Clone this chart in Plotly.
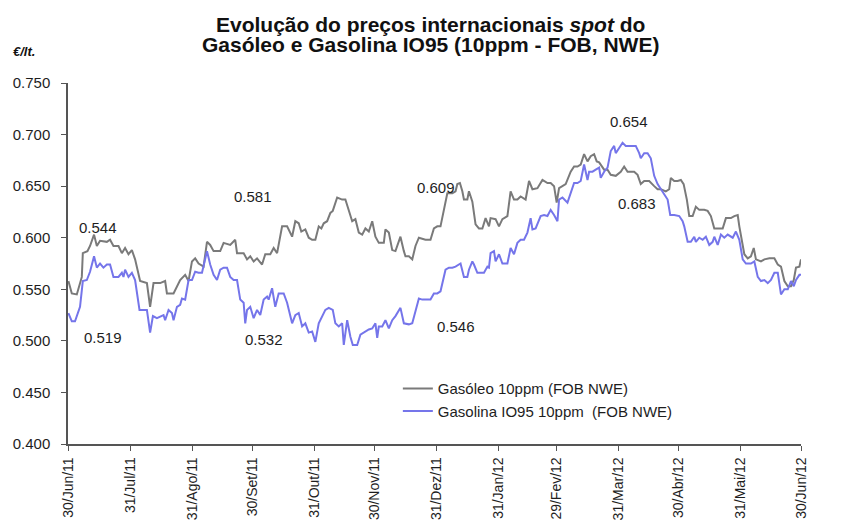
import plotly.graph_objects as go

# x = days since 30/Jun/11
gasoleo_days = [0.2, 1.9, 4.4, 6.9, 7.4, 9.7, 11.0, 13.0, 14.4, 16.0, 19.4, 21.0, 22.7, 25.2, 26.9, 28.5, 30.2, 31.9, 33.5, 36.0,
                39.4, 41.0, 42.7, 46.0, 48.5, 49.4, 52.7, 54.4, 56.0, 58.5, 60.2, 61.9, 63.5, 65.2, 67.7, 69.4, 71.0, 72.7, 76.0, 77.7,
                81.0, 83.5, 84.4, 87.7, 89.4, 91.0, 92.7, 94.4, 96.9, 98.5, 101.0, 102.7, 104.4, 106.9, 109.4, 111.9, 113.5, 115.2,
                116.5, 118.5, 120.2, 121.9, 123.5, 125.2, 126.5, 127.7, 129.4, 131.0, 132.2, 134.4, 136.9, 138.5, 140.2, 141.9, 143.5,
                145.2, 146.9, 148.5, 150.2, 151.9, 153.5, 155.2, 157.7, 158.5, 160.2, 161.9, 163.5, 166.0, 167.7, 168.5, 170.2, 171.9,
                173.5, 175.2, 178.5, 181.0, 182.7, 184.4, 186.0, 187.7, 189.4, 191.9, 193.5, 194.4, 195.7, 196.9, 197.7, 199.4, 200.2,
                201.9, 203.5, 205.2, 206.9, 208.5, 210.2, 211.0, 213.5, 215.2, 216.9, 219.4, 221.0, 222.7, 224.4, 226.0, 228.5, 230.2,
                231.9, 234.4, 236.9, 239.4, 241.0, 242.7, 244.0, 245.2, 246.9, 248.5, 251.0, 252.7, 254.4, 256.0, 257.7, 259.4, 261.0,
                262.7, 264.0, 265.2, 267.7, 269.4, 271.0, 273.5, 276.0, 277.7, 279.4, 282.7, 284.4, 286.0, 287.7, 290.2, 292.7, 294.4,
                296.0, 298.5, 300.2, 301.0, 302.7, 304.4, 306.0, 307.4, 309.0, 310.2, 311.9, 313.5, 315.2, 317.7, 319.4, 321.0, 322.7,
                324.4, 326.9, 328.5, 331.0, 332.7, 334.4, 335.2, 336.9, 337.7, 339.4, 341.0, 342.4, 343.5, 346.0, 347.7, 350.2, 352.7,
                354.4, 356.0, 357.7, 359.4, 361.0, 362.4, 363.5, 365.2, 366.0]
gasoleo_vals = [0.558, 0.546, 0.545, 0.562, 0.585, 0.587, 0.592, 0.603, 0.592, 0.597, 0.596, 0.598, 0.592, 0.592, 0.585, 0.590, 0.584, 0.588, 0.579, 0.558,
                0.556, 0.533, 0.556, 0.556, 0.558, 0.546, 0.546, 0.553, 0.559, 0.564, 0.558, 0.577, 0.580, 0.575, 0.572, 0.596, 0.593, 0.587, 0.587, 0.595,
                0.593, 0.598, 0.585, 0.585, 0.579, 0.582, 0.577, 0.580, 0.574, 0.584, 0.584, 0.590, 0.585, 0.611, 0.611, 0.601, 0.616, 0.614,
                0.606, 0.608, 0.600, 0.598, 0.598, 0.611, 0.609, 0.614, 0.616, 0.624, 0.626, 0.639, 0.637, 0.637, 0.626, 0.616, 0.618,
                0.605, 0.603, 0.609, 0.606, 0.616, 0.601, 0.595, 0.595, 0.608, 0.605, 0.588, 0.587, 0.601, 0.587, 0.582, 0.582, 0.579,
                0.592, 0.600, 0.598, 0.598, 0.609, 0.611, 0.611, 0.627, 0.643, 0.643, 0.645, 0.652, 0.653, 0.645, 0.637, 0.637, 0.645,
                0.635, 0.613, 0.609, 0.609, 0.619, 0.611, 0.619, 0.618, 0.611, 0.618, 0.621, 0.645, 0.637, 0.637, 0.640, 0.637, 0.655,
                0.647, 0.648, 0.656, 0.653, 0.653, 0.650, 0.634, 0.648, 0.650, 0.652, 0.664, 0.669, 0.669, 0.671, 0.681, 0.674, 0.679,
                0.681, 0.674, 0.673, 0.666, 0.666, 0.661, 0.660, 0.664, 0.669, 0.664, 0.664, 0.661, 0.652, 0.655, 0.655, 0.650, 0.647,
                0.647, 0.645, 0.647, 0.658, 0.655, 0.655, 0.656, 0.652, 0.637, 0.621, 0.621, 0.630, 0.627, 0.627, 0.626, 0.621, 0.609,
                0.609, 0.609, 0.619, 0.619, 0.621, 0.622, 0.611, 0.595, 0.584, 0.580, 0.582, 0.590, 0.579, 0.577, 0.579, 0.580, 0.580,
                0.574, 0.572, 0.558, 0.553, 0.553, 0.559, 0.571, 0.572, 0.579]

gasolina_days = [0.2, 1.9, 3.5, 6.0, 7.4, 9.4, 11.0, 13.0, 14.4, 16.0, 17.7, 19.4, 21.0, 22.7, 25.2, 26.9, 27.7, 28.5, 30.2, 31.9,
                 33.5, 35.7, 39.4, 41.0, 42.4, 44.4, 47.7, 48.5, 50.2, 51.9, 52.7, 54.4, 56.0, 56.9, 58.5, 60.2, 61.9, 63.5, 65.2, 66.9,
                 69.4, 71.0, 72.7, 74.4, 76.0, 77.7, 79.4, 81.0, 82.7, 84.4, 86.0, 87.7, 88.5, 89.4, 91.0, 92.7, 94.4, 96.0, 97.7, 99.4,
                 100.2, 101.9, 103.5, 105.2, 107.7, 109.4, 111.9, 113.5, 115.2,
                 116.9, 118.5, 120.2, 121.9, 123.5, 125.2, 126.9, 128.5, 130.2, 132.2, 133.5, 135.2, 136.9, 137.7, 139.4, 141.0, 142.2,
                 144.4, 146.0, 147.7, 150.2, 151.9, 153.5, 154.4, 155.2, 156.9, 158.5, 160.2, 161.9, 163.5, 166.0, 167.7, 170.2, 171.9,
                 173.5, 175.2, 176.9, 179.4,
                 181.0, 182.7, 184.4, 186.0, 188.5, 190.2, 191.9, 193.5, 196.0, 197.7, 199.4, 200.2, 201.9, 202.7, 204.4, 207.7, 208.5,
                 209.4, 210.2, 211.0, 212.7, 213.5, 215.2, 216.9, 219.4, 221.0, 222.7, 224.4, 226.0, 227.7, 229.4, 231.0, 231.9, 233.5,
                 236.0, 237.7, 239.4, 241.0, 242.7, 244.4, 245.2, 246.9, 249.4, 251.0, 252.7, 254.4, 256.0, 257.7, 259.4, 260.2, 261.9,
                 263.5, 265.2, 266.0, 267.7, 269.4,
                 271.0, 272.7, 273.5, 275.2, 276.9, 278.5, 283.5, 285.2, 286.0, 287.7, 289.4, 291.0, 291.9, 292.7, 294.4, 296.0, 297.7,
                 299.4, 300.7, 302.7, 305.2, 306.9, 307.7, 309.4, 311.0, 312.7, 313.5, 315.2, 316.9, 318.5, 320.2, 321.9, 322.7, 324.4,
                 326.0, 327.7, 329.4, 331.9, 333.5, 335.2, 336.9, 338.5, 341.0, 342.7, 344.4, 346.0, 347.7, 349.4, 351.0, 352.7, 354.4,
                 356.0, 357.7, 359.4, 361.0, 362.4, 363.5, 364.4, 365.2, 366.0]
gasolina_vals = [0.527, 0.519, 0.519, 0.533, 0.558, 0.559, 0.567, 0.582, 0.571, 0.575, 0.571, 0.574, 0.574, 0.562, 0.562, 0.566, 0.562, 0.569, 0.562, 0.566,
                 0.559, 0.530, 0.530, 0.508, 0.524, 0.522, 0.525, 0.520, 0.530, 0.527, 0.520, 0.533, 0.535, 0.541, 0.540, 0.559, 0.559, 0.567, 0.566, 0.566,
                 0.587, 0.574, 0.564, 0.559, 0.569, 0.571, 0.571, 0.562, 0.559, 0.559, 0.540, 0.537, 0.517, 0.530, 0.533, 0.522, 0.530, 0.525, 0.540, 0.543,
                 0.540, 0.551, 0.533, 0.546, 0.546, 0.537, 0.517, 0.525, 0.527,
                 0.514, 0.517, 0.508, 0.509, 0.499, 0.517, 0.524, 0.530, 0.532, 0.530, 0.517, 0.514, 0.517, 0.496, 0.520, 0.504, 0.496,
                 0.496, 0.506, 0.508, 0.511, 0.512, 0.517, 0.503, 0.514, 0.514, 0.520, 0.512, 0.520, 0.524, 0.532, 0.517, 0.516, 0.517,
                 0.529, 0.541, 0.540, 0.540,
                 0.540, 0.546, 0.546, 0.548, 0.569, 0.571, 0.571, 0.572, 0.575, 0.562, 0.562, 0.569, 0.577, 0.574, 0.566, 0.566, 0.569,
                 0.572, 0.571, 0.585, 0.587, 0.577, 0.584, 0.575, 0.575, 0.590, 0.584, 0.595, 0.598, 0.598, 0.605, 0.619, 0.608, 0.609,
                 0.621, 0.622, 0.621, 0.627, 0.622, 0.616, 0.637, 0.639, 0.634, 0.643, 0.653, 0.653, 0.655, 0.671, 0.656, 0.664, 0.664,
                 0.666, 0.668, 0.658, 0.664, 0.668,
                 0.684, 0.689, 0.682, 0.687, 0.692, 0.689, 0.689, 0.682, 0.677, 0.682, 0.682, 0.677, 0.668, 0.660, 0.652, 0.647, 0.643,
                 0.637, 0.622, 0.622, 0.621, 0.616, 0.611, 0.596, 0.596, 0.601, 0.596, 0.600, 0.598, 0.601, 0.593, 0.596, 0.601, 0.593,
                 0.603, 0.600, 0.603, 0.600, 0.606, 0.598, 0.579, 0.575, 0.575, 0.577, 0.562, 0.558, 0.559, 0.556, 0.559, 0.566, 0.566,
                 0.545, 0.550, 0.550, 0.558, 0.553, 0.559, 0.562, 0.564, 0.564]

tick_days = [0, 31, 62, 92, 123, 153, 184, 215, 244, 275, 305, 336, 366]
tick_labels = ["30/Jun/11", "31/Jul/11", "31/Ago/11", "30/Set/11", "31/Out/11", "30/Nov/11",
               "31/Dez/11", "31/Jan/12", "29/Fev/12", "31/Mar/12", "30/Abr/12", "31/Mai/12", "30/Jun/12"]

label_texts = ["0.544", "0.519", "0.581", "0.532", "0.609", "0.546", "0.654", "0.683", "0.579", "0.564"]
label_days = [15, 17.5, 92.5, 98, 183.5, 193.5, 280, 284, 381, 381]
label_vals = [0.610, 0.503, 0.640, 0.501, 0.649, 0.514, 0.713, 0.633, 0.578, 0.550]

title_line1 = "<b>Evolução do preços internacionais <i>spot</i> do</b>"
title_line2 = "<b>Gasóleo e Gasolina IO95 (10ppm - FOB, NWE)</b>"
unit_label = "<b><i>€/lt.</i></b>"

GRAY = "#7a7a7a"
BLUE = "#7575ea"
FONT = "Liberation Sans, Arial, sans-serif"
TXT = "#1e1e1e"

fig = go.Figure()
fig.add_trace(go.Scatter(x=gasoleo_days, y=gasoleo_vals, mode="lines", name="Gasóleo 10ppm (FOB NWE)",
                         line=dict(color=GRAY, width=2)))
fig.add_trace(go.Scatter(x=gasolina_days, y=gasolina_vals, mode="lines", name="Gasolina IO95 10ppm  (FOB NWE)",
                         line=dict(color=BLUE, width=2)))

for t, d, v in zip(label_texts, label_days, label_vals):
    fig.add_annotation(x=d, y=v, xref="x", yref="y", text=t, showarrow=False,
                       font=dict(family=FONT, size=15, color=TXT))

fig.add_annotation(x=0.494, y=1.163, xref="paper", yref="paper", text=title_line1, showarrow=False,
                   xanchor="center", yanchor="middle", font=dict(family=FONT, size=21, color="#111111"))
fig.add_annotation(x=0.494, y=1.107, xref="paper", yref="paper", text=title_line2, showarrow=False,
                   xanchor="center", yanchor="middle", font=dict(family=FONT, size=21, color="#111111"))
fig.add_annotation(x=-0.060, y=1.086, xref="paper", yref="paper", text=unit_label, showarrow=False,
                   xanchor="center", yanchor="middle", font=dict(family=FONT, size=13, color="#111111"))

fig.update_layout(
    width=843, height=518,
    margin=dict(l=60, r=50, t=75, b=82, autoexpand=False),
    paper_bgcolor="white", plot_bgcolor="white",
    showlegend=True,
    legend=dict(x=0.450, y=0.199, xanchor="left", yanchor="top", bgcolor="rgba(0,0,0,0)",
                font=dict(family=FONT, size=15, color=TXT), itemwidth=30, tracegroupgap=0),
    font=dict(family=FONT, color=TXT),
)
fig.update_xaxes(range=[0, 366], tickmode="array", tickvals=tick_days, ticktext=tick_labels, tickangle=-90,
                 showgrid=False, zeroline=False, showline=True, linecolor="#555555", linewidth=1.5,
                 ticks="outside", ticklen=5, tickcolor="#555555", ticklabelstandoff=1, automargin=False,
                 tickfont=dict(family=FONT, size=14, color=TXT))
fig.update_yaxes(range=[0.4, 0.75], dtick=0.05, tickformat=".3f", showgrid=False, zeroline=False,
                 showline=True, linecolor="#555555", linewidth=1.5, ticks="outside", ticklen=5, tickcolor="#555555",
                 ticklabelstandoff=8, automargin=False, tickfont=dict(family=FONT, size=15, color=TXT))

fig.write_html("out.html")
